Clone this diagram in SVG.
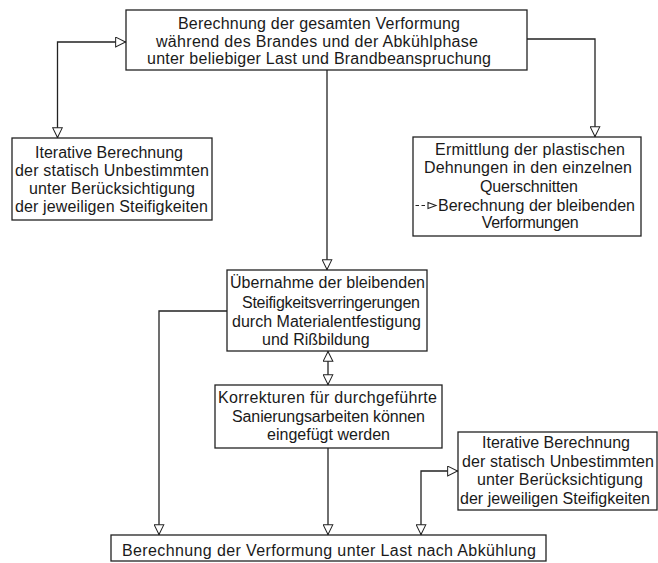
<svg xmlns="http://www.w3.org/2000/svg" width="658" height="563" viewBox="0 0 658 563">
<defs>
<marker id="tri" viewBox="0 0 12 12" refX="12" refY="6" markerWidth="12" markerHeight="11" markerUnits="userSpaceOnUse" orient="auto-start-reverse">
<path d="M0.7,0.7 L11.5,6 L0.7,11.3 Z" fill="#fff" stroke="#222" stroke-width="1.1"/>
</marker>
<style>
.box{fill:#fff;stroke:#222;stroke-width:1.3}
.ln{fill:none;stroke:#222;stroke-width:1.3}
text{font-family:"Liberation Sans",Arial,sans-serif;font-size:16px;fill:#1a1a1a}
</style>
</defs>
<rect width="658" height="563" fill="#fff"/>
<g id="connectors">
<path class="ln" d="M126,42 H57.5 V138" marker-start="url(#tri)" marker-end="url(#tri)"/>
<path class="ln" d="M527,39 H595 V137" marker-end="url(#tri)"/>
<path class="ln" d="M327,70 V270" marker-end="url(#tri)"/>
<path class="ln" d="M328,351 V385" marker-start="url(#tri)" marker-end="url(#tri)"/>
<path class="ln" d="M227,311 H159 V535" marker-end="url(#tri)"/>
<path class="ln" d="M328,448 V535" marker-end="url(#tri)"/>
<path class="ln" d="M458,471 H421 V535" marker-start="url(#tri)" marker-end="url(#tri)"/>
</g>
<g id="n-top">
<rect class="box" x="126" y="10" width="401" height="60"/>
<text x="178" y="29" textLength="282" lengthAdjust="spacing">Berechnung der gesamten Verformung</text>
<text x="156" y="46.5" textLength="322" lengthAdjust="spacing">während des Brandes und der Abkühlphase</text>
<text x="147" y="64" textLength="344" lengthAdjust="spacing">unter beliebiger Last und Brandbeanspruchung</text>
</g>
<g id="n-left">
<rect class="box" x="12" y="138" width="200" height="82"/>
<text x="35" y="158" textLength="148" lengthAdjust="spacing">Iterative Berechnung</text>
<text x="15" y="176" textLength="194" lengthAdjust="spacing">der statisch Unbestimmten</text>
<text x="29" y="194" textLength="166" lengthAdjust="spacing">unter Berücksichtigung</text>
<text x="15" y="211.5" textLength="193" lengthAdjust="spacing">der jeweiligen Steifigkeiten</text>
</g>
<g id="n-right">
<rect class="box" x="413" y="137" width="228" height="99"/>
<text x="435" y="155" textLength="190" lengthAdjust="spacing">Ermittlung der plastischen</text>
<text x="424" y="173.3" textLength="208" lengthAdjust="spacing">Dehnungen in den einzelnen</text>
<text x="480" y="191.7" textLength="98" lengthAdjust="spacing">Querschnitten</text>
<path d="M415.5,205.5 H427" fill="none" stroke="#222" stroke-width="1.2" stroke-dasharray="3.5 2.5"/>
<path d="M428,202.5 L436,205.5 L428,208.5 Z" fill="#fff" stroke="#222" stroke-width="1.1"/>
<text x="438" y="210.5" textLength="197" lengthAdjust="spacing">Berechnung der bleibenden</text>
<text x="481.7" y="228.3" textLength="97" lengthAdjust="spacing">Verformungen</text>
</g>
<g id="n-mid">
<rect class="box" x="227" y="270" width="200" height="81"/>
<text x="230" y="288.3" textLength="195" lengthAdjust="spacing">Übernahme der bleibenden</text>
<text x="242" y="307.5" textLength="178" lengthAdjust="spacing">Steifigkeitsverringerungen</text>
<text x="232" y="326.5" textLength="189" lengthAdjust="spacing">durch Materialentfestigung</text>
<text x="262" y="345">und Rißbildung</text>
</g>
<g id="n-korr">
<rect class="box" x="215" y="385" width="227" height="63"/>
<text x="218" y="403" textLength="219" lengthAdjust="spacing">Korrekturen für durchgeführte</text>
<text x="232" y="421.5" textLength="193" lengthAdjust="spacing">Sanierungsarbeiten können</text>
<text x="267" y="440" textLength="123" lengthAdjust="spacing">eingefügt werden</text>
</g>
<g id="n-iter2">
<rect class="box" x="458" y="432" width="199" height="78"/>
<text x="482" y="448.3" textLength="148" lengthAdjust="spacing">Iterative Berechnung</text>
<text x="462" y="466.7" textLength="192" lengthAdjust="spacing">der statisch Unbestimmten</text>
<text x="477" y="485" textLength="166" lengthAdjust="spacing">unter Berücksichtigung</text>
<text x="460" y="504" textLength="190" lengthAdjust="spacing">der jeweiligen Steifigkeiten</text>
</g>
<g id="n-bottom">
<rect class="box" x="111" y="535" width="435" height="26"/>
<text x="122" y="556" textLength="414" lengthAdjust="spacing">Berechnung der Verformung unter Last nach Abkühlung</text>
</g>
</svg>
